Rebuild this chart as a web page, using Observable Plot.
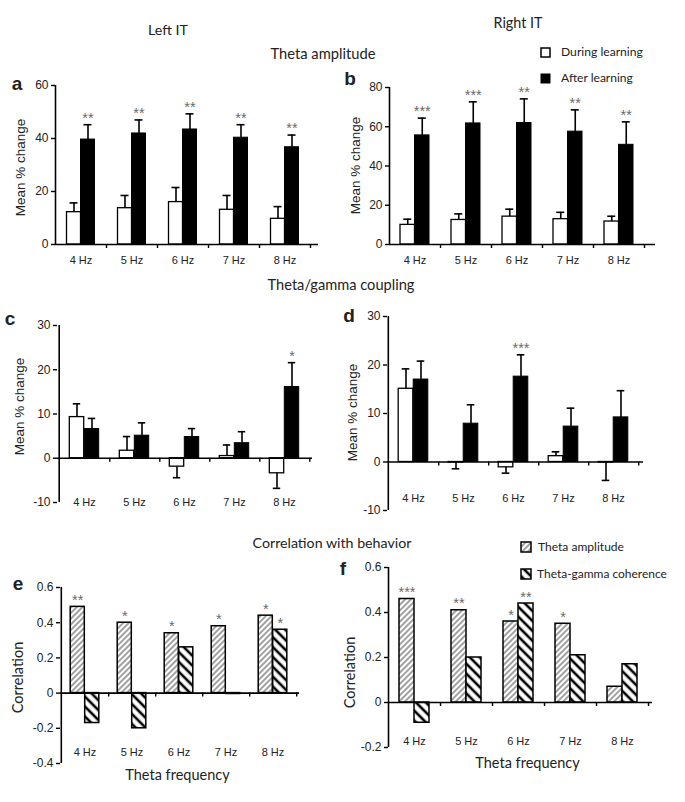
<!DOCTYPE html>
<html><head><meta charset="utf-8">
<script src="https://cdn.jsdelivr.net/npm/d3@7"></script>
<script src="https://cdn.jsdelivr.net/npm/@observablehq/plot@0.6"></script>
<style>
body{margin:0;background:#fff;}
#page{position:relative;width:685px;height:802px;overflow:hidden;color:#222;background:#fff;}
.lbl{position:absolute;white-space:nowrap;line-height:1;}
.sw{position:absolute;}
</style></head><body>
<svg width="0" height="0" style="position:absolute">
<defs>
<pattern id="hatchAmp" patternUnits="userSpaceOnUse" width="4" height="4" patternTransform="rotate(45)">
<rect width="4" height="4" fill="#fff"/><line x1="1" y1="0" x2="1" y2="4" stroke="#444" stroke-width="1"/></pattern>
<pattern id="hatchCoh" patternUnits="userSpaceOnUse" width="7" height="7" patternTransform="rotate(-45)">
<rect width="7" height="7" fill="#fff"/><line x1="2" y1="0" x2="2" y2="7" stroke="#000" stroke-width="2.6"/></pattern>
</defs></svg>
<div id="page"></div>
<script>
// ---------- data ----------
const freqs = ["4 Hz", "5 Hz", "6 Hz", "7 Hz", "8 Hz"];

// a: Left IT, theta amplitude
const ampLeftDuring = [12.2, 13.7, 16.0, 13.1, 9.7];
const ampLeftDuringErr = [3.5, 4.8, 5.5, 5.4, 4.6];
const ampLeftAfter = [39.6, 41.9, 43.4, 40.3, 36.7];
const ampLeftAfterErr = [5.6, 5.1, 5.9, 4.9, 4.6];
const ampLeftStars = ["**", "**", "**", "**", "**"];

// b: Right IT, theta amplitude
const ampRightDuring = [10.0, 12.5, 14.2, 12.9, 11.7];
const ampRightDuringErr = [2.9, 3.1, 3.8, 3.5, 2.7];
const ampRightAfter = [55.6, 61.7, 61.9, 57.5, 50.8];
const ampRightAfterErr = [8.8, 11.0, 12.3, 11.1, 11.7];
const ampRightStars = ["***", "***", "**", "**", "**"];

// c: Left IT, theta/gamma coupling
const cplLeftDuring = [9.3, 1.7, -1.9, 0.5, -3.4];
const cplLeftDuringErr = [3.0, 3.2, 2.5, 2.5, 3.4];
const cplLeftAfter = [6.6, 5.1, 4.8, 3.4, 16.1];
const cplLeftAfterErr = [2.4, 2.9, 1.9, 2.6, 5.5];
const cplLeftStars = ["", "", "", "", "*"];

// d: Right IT, theta/gamma coupling
const cplRightDuring = [15.1, -0.1, -1.1, 1.2, -0.1];
const cplRightDuringErr = [4.1, 1.3, 1.2, 0.9, 3.7];
const cplRightAfter = [17.0, 7.9, 17.6, 7.3, 9.2];
const cplRightAfterErr = [3.8, 3.9, 4.5, 3.8, 5.5];
const cplRightStars = ["", "", "***", "", ""];

// e: Left IT, correlation with behavior
const corLeftAmp = [0.49, 0.40, 0.34, 0.38, 0.44];
const corLeftCoh = [-0.17, -0.20, 0.26, -0.005, 0.36];
const corLeftAmpStars = ["**", "*", "*", "*", "*"];
const corLeftCohStars = ["", "", "", "", "*"];

// f: Right IT, correlation with behavior
const corRightAmp = [0.46, 0.41, 0.36, 0.35, 0.07];
const corRightCoh = [-0.09, 0.20, 0.44, 0.21, 0.17];
const corRightAmpStars = ["***", "**", "*", "*", ""];
const corRightCohStars = ["", "", "**", "", ""];

// axis ticks
const pctTicksA = [0, 20, 40, 60];
const pctTicksB = [0, 20, 40, 60, 80];
const cplTicks = [-10, 0, 10, 20, 30];
const corTicksE = [-0.4, -0.2, 0, 0.2, 0.4, 0.6];
const corTicksF = [-0.2, 0, 0.2, 0.4, 0.6];

// ---------- drawing ----------
const page = document.getElementById("page");

function panel(cfg) {
  const step = (cfg.xEnd - cfg.axisX) / freqs.length;
  const bw = cfg.barW;
  const marks = [];
  cfg.series.forEach((s, k) => {
    const rows = freqs.map((f, i) => {
      const v = s.values[i];
      const e = s.err ? s.err[i] : 0;
      return {f, v, tip: v + (v < 0 ? -e : e), star: s.stars ? s.stars[i] : ""};
    });
    const inL = k === 0 ? step / 2 - bw : step / 2;
    const inR = k === 0 ? step / 2 : step / 2 - bw;
    const off = k === 0 ? -bw / 2 : bw / 2;
    marks.push(Plot.barY(rows, {x: "f", y1: 0, y2: "v", fill: s.fill, stroke: "#000",
      strokeWidth: s.strokeWidth, insetLeft: inL, insetRight: inR}));
    if (s.err) {
      marks.push(Plot.ruleX(rows, {x: "f", y1: "v", y2: "tip", dx: off, stroke: "#000", strokeWidth: 1.6}));
      marks.push(Plot.tickY(rows, {x: "f", y: "tip", dx: off, insetLeft: step / 2 - 4, insetRight: step / 2 - 4,
        stroke: "#000", strokeWidth: 1.6}));
    }
    marks.push(Plot.text(rows.filter(d => d.star), {x: "f", y: "tip", text: "star", dx: off, dy: -2,
      lineAnchor: "bottom", fill: "#6a6a6a", fontSize: 14.5}));
  });
  // axes
  marks.push(Plot.axisY({ticks: cfg.yTicks, tickFormat: d => String(d), tickSize: 4, tickPadding: 3,
    fontSize: 12, label: null, stroke: "#000", strokeWidth: 1.4}));
  marks.push(Plot.axisX({tickSize: 0, tickPadding: cfg.labelY - cfg.yBottom - 4, fontSize: 11, label: null}));
  marks.push(Plot.ruleX([freqs[0]], {x: d => d, y1: cfg.yDomain[0], y2: cfg.yDomain[1], dx: -step / 2,
    stroke: "#000", strokeWidth: 1.6}));
  marks.push(Plot.ruleY([0], {stroke: "#000", strokeWidth: 1.6, insetRight: cfg.xEnd - cfg.lineEnd}));
  marks.push(Plot.ruleX(freqs, {x: d => d, y1: 0, y2: 0, dx: step / 2, insetBottom: -4, stroke: "#000", strokeWidth: 1.4}));
  // axis titles
  marks.push(Plot.text([cfg.yTitle], {text: d => d, frameAnchor: "left", rotate: -90, textAnchor: "middle",
    lineAnchor: "middle", dx: cfg.titleX - cfg.axisX, dy: cfg.titleY - (cfg.yTop + cfg.yBottom) / 2,
    fontSize: cfg.titleSize, fontFamily: cfg.titleFont, fill: "#222"}));
  if (cfg.xTitle) {
    marks.push(Plot.text([cfg.xTitle], {text: d => d, frameAnchor: "bottom", lineAnchor: "middle",
      dx: cfg.xTitleX - (cfg.axisX + cfg.xEnd) / 2, dy: cfg.xTitleY - cfg.yBottom,
      fontSize: 14.5, fontFamily: "Lato", fill: "#222"}));
  }
  const svg = Plot.plot({
    width: cfg.width, height: cfg.height,
    marginLeft: cfg.axisX - cfg.left, marginRight: cfg.left + cfg.width - cfg.xEnd,
    marginTop: cfg.yTop - cfg.top, marginBottom: cfg.top + cfg.height - cfg.yBottom,
    x: {type: "band", domain: freqs, padding: 0},
    y: {domain: cfg.yDomain},
    style: {fontFamily: "'Liberation Sans', Arial, sans-serif", fontSize: "12px", color: "#222",
      background: "none", overflow: "visible"},
    marks
  });
  svg.style.position = "absolute";
  svg.style.left = cfg.left + "px";
  svg.style.top = cfg.top + "px";
  page.appendChild(svg);
}

const pctTitle = {yTitle: "Mean % change", titleSize: 13.5, titleFont: "'Liberation Sans', Arial, sans-serif"};
const corTitle = {yTitle: "Correlation", titleSize: 14.5, titleFont: "Lato", xTitle: "Theta frequency"};

panel({...pctTitle, left: 0, top: 70, width: 335, height: 210, axisX: 55, xEnd: 310, lineEnd: 318,
  yTop: 85, yBottom: 244, yDomain: [0, 60], yTicks: pctTicksA, labelY: 260, barW: 14, titleX: 20, titleY: 167,
  series: [{values: ampLeftDuring, err: ampLeftDuringErr, fill: "#fff", strokeWidth: 1.3},
           {values: ampLeftAfter, err: ampLeftAfterErr, fill: "#000", strokeWidth: 1, stars: ampLeftStars}]});

panel({...pctTitle, left: 335, top: 70, width: 350, height: 210, axisX: 389, xEnd: 644, lineEnd: 655,
  yTop: 87, yBottom: 244, yDomain: [0, 80], yTicks: pctTicksB, labelY: 260, barW: 14.5, titleX: 355, titleY: 165,
  series: [{values: ampRightDuring, err: ampRightDuringErr, fill: "#fff", strokeWidth: 1.3},
           {values: ampRightAfter, err: ampRightAfterErr, fill: "#000", strokeWidth: 1, stars: ampRightStars}]});

panel({...pctTitle, left: 0, top: 305, width: 335, height: 215, axisX: 57, xEnd: 310, lineEnd: 312,
  yTop: 325, yBottom: 502, yDomain: [-10, 30], yTicks: cplTicks, labelY: 502, barW: 15, titleX: 19, titleY: 406,
  series: [{values: cplLeftDuring, err: cplLeftDuringErr, fill: "#fff", strokeWidth: 1.3},
           {values: cplLeftAfter, err: cplLeftAfterErr, fill: "#000", strokeWidth: 1, stars: cplLeftStars}]});

panel({...pctTitle, left: 335, top: 300, width: 350, height: 225, axisX: 387, xEnd: 639, lineEnd: 643,
  yTop: 316, yBottom: 510, yDomain: [-10, 30], yTicks: cplTicks, labelY: 498, barW: 15, titleX: 352, titleY: 412,
  series: [{values: cplRightDuring, err: cplRightDuringErr, fill: "#fff", strokeWidth: 1.3},
           {values: cplRightAfter, err: cplRightAfterErr, fill: "#000", strokeWidth: 1, stars: cplRightStars}]});

panel({...corTitle, left: 0, top: 575, width: 335, height: 215, axisX: 60, xEnd: 297, lineEnd: 299,
  yTop: 587, yBottom: 763, yDomain: [-0.4, 0.6], yTicks: corTicksE, labelY: 752, barW: 14.5, titleX: 18, titleY: 677,
  xTitleX: 177, xTitleY: 775,
  series: [{values: corLeftAmp, fill: "url(#hatchAmp)", strokeWidth: 1.5, stars: corLeftAmpStars},
           {values: corLeftCoh, fill: "url(#hatchCoh)", strokeWidth: 1.5, stars: corLeftCohStars}]});

panel({...corTitle, left: 335, top: 555, width: 350, height: 225, axisX: 388, xEnd: 648, lineEnd: 652,
  yTop: 567, yBottom: 747, yDomain: [-0.2, 0.6], yTicks: corTicksF, labelY: 741, barW: 15, titleX: 350, titleY: 672,
  xTitleX: 527, xTitleY: 763,
  series: [{values: corRightAmp, fill: "url(#hatchAmp)", strokeWidth: 1.5, stars: corRightAmpStars},
           {values: corRightCoh, fill: "url(#hatchCoh)", strokeWidth: 1.5, stars: corRightCohStars}]});

// ---------- titles, panel letters, legends ----------
function label(txt, x, y, w, opts = {}) {
  const el = document.createElement("div");
  el.className = "lbl";
  el.textContent = txt;
  const base = opts.size || 13;
  el.style.fontFamily = opts.family || "Lato";
  el.style.fontSize = base + "px";
  if (opts.weight) el.style.fontWeight = opts.weight;
  el.style.left = x + "px";
  el.style.top = y + "px";
  el.style.transform = opts.left ? "translate(0,-50%)" : "translate(-50%,-50%)";
  page.appendChild(el);
  if (w) {
    const m = el.getBoundingClientRect().width;
    if (m > 0) el.style.fontSize = (base * w / m) + "px";
  }
  return el;
}
function swatch(x, y, size, fill, border) {
  const ns = "http://www.w3.org/2000/svg";
  const s = document.createElementNS(ns, "svg");
  s.setAttribute("width", size + 2); s.setAttribute("height", size + 2);
  s.setAttribute("class", "sw");
  s.style.left = (x - 1) + "px"; s.style.top = (y - 1) + "px";
  const r = document.createElementNS(ns, "rect");
  r.setAttribute("x", 1); r.setAttribute("y", 1);
  r.setAttribute("width", size); r.setAttribute("height", size);
  r.setAttribute("fill", fill); r.setAttribute("stroke", "#000"); r.setAttribute("stroke-width", border);
  s.appendChild(r);
  page.appendChild(s);
}

label("Left IT", 168, 30, 40, {size: 14});
label("Right IT", 518, 23, 49, {size: 14});
label("Theta amplitude", 323, 53, 105, {size: 14});
label("Theta/gamma coupling", 341, 285, 147, {size: 14});
label("Correlation with behavior", 332, 543, 159, {size: 14});

label("During learning", 561, 52, 82, {size: 12, left: true});
label("After learning", 561, 78, 72, {size: 12, left: true});
swatch(541, 48, 9, "#fff", 1.5);
swatch(541, 74, 9, "#000", 1);

label("Theta amplitude", 538, 547, 86, {size: 12, left: true});
label("Theta-gamma coherence", 537, 574, 130, {size: 12, left: true});
swatch(521, 542, 10, "url(#hatchAmp)", 1.5);
swatch(521, 569, 10, "url(#hatchCoh)", 1.5);

const letterFont = "'Liberation Sans', Arial, sans-serif";
label("a", 17, 83, 0, {size: 19, family: letterFont, weight: "bold"});
label("b", 350, 78, 0, {size: 19, family: letterFont, weight: "bold"});
label("c", 10, 318, 0, {size: 19, family: letterFont, weight: "bold"});
label("d", 349, 315, 0, {size: 19, family: letterFont, weight: "bold"});
label("e", 18, 583, 0, {size: 19, family: letterFont, weight: "bold"});
label("f", 343, 568, 0, {size: 19, family: letterFont, weight: "bold"});
</script>
</body></html>
